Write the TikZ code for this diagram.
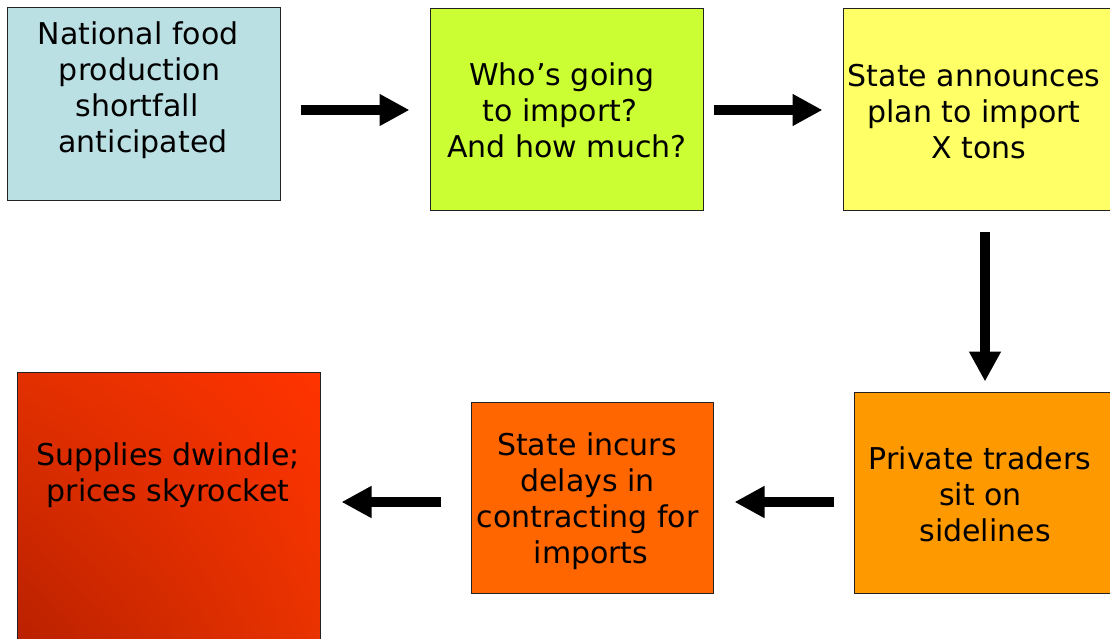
\documentclass[tikz,border=0pt]{standalone}
\usepackage{fontspec}
\setmainfont{DejaVu Sans}
\usetikzlibrary{arrows.meta,shadings}
\definecolor{cblue}{HTML}{BBE0E3}
\definecolor{cgreen}{HTML}{CCFF33}
\definecolor{cyellow}{HTML}{FFFF66}
\definecolor{corange}{HTML}{FF9900}
\definecolor{cred}{HTML}{FF6600}
\definecolor{edge}{HTML}{222222}
\definecolor{rUL}{HTML}{E23000}
\definecolor{rUR}{HTML}{FF3300}
\definecolor{rLL}{HTML}{B82000}
\definecolor{rLR}{HTML}{E83300}
\newcommand\lnshift[2]{\hspace*{#1pt}#2\hspace*{-#1pt}}
\tikzset{
  box/.style={draw=edge, line width=1pt, rectangle, inner sep=0pt},
  txt/.style={anchor=north, inner sep=0pt, align=center, font=\fontsize{30}{36}\selectfont},
  flow/.style={line width=10pt, -{Triangle[length=30pt,width=30pt]}}
}
\begin{document}
\begin{tikzpicture}[x=1pt,y=-1pt]
\useasboundingbox (0,0) rectangle (1110,639);
% boxes
\node[box, fill=cblue, minimum width=273pt, minimum height=192pt] (b1) at (143.5,104) {};
\node[box, fill=cgreen, minimum width=273pt, minimum height=201pt] (b2) at (566.5,109.5) {};
\node[box, fill=cyellow, minimum width=272pt, minimum height=201pt] (b3) at (979,109.5) {};
\node[box, fill=corange, minimum width=262pt, minimum height=201pt] (b4) at (985,492.5) {};
\node[box, fill=cred, minimum width=242pt, minimum height=191pt] (b5) at (592,497.5) {};
\node[box, upper left=rUL, upper right=rUR, lower left=rLL, lower right=rLR,
      minimum width=303pt, minimum height=280pt] (b6) at (168.5,512) {};
% texts
\node[txt] (t1) at (140,21.5) {\lnshift{-2}{National food}\\\lnshift{-1}{production}\\\lnshift{-6}{shortfall}\\\lnshift{3}{anticipated}};
\node[txt] (t2) at (565,62.5) {\lnshift{-3}{Who’s going}\\\lnshift{-10}{to import?}\\\lnshift{2}{And how much?}};
\node[txt] (t3) at (974,64.5) {State announces\\plan to import\\\lnshift{5}{X tons}};
\node[txt] (t4) at (981,446.5) {\lnshift{-1}{Private traders}\\\lnshift{-1}{sit on}\\\lnshift{4}{sidelines}};
\node[txt] (t5) at (588,432.5) {\lnshift{-1}{State incurs}\\\lnshift{-1}{delays in}\\\lnshift{-1}{contracting for}\\\lnshift{3}{imports}};
\node[txt] (t6) at (168,442.5) {Supplies dwindle;\\prices skyrocket};
% connectors
\coordinate (vx) at (985,0);
\coordinate (ly) at (0,502);
\coordinate (ty) at (0,110);
\draw[flow, shorten <=20pt, shorten >=20pt] (b1.east |- ty) -- (b2.west |- ty);
\draw[flow, shorten <=10pt, shorten >=20pt] (b2.east |- ty) -- (b3.west |- ty);
\draw[flow, shorten <=21pt, shorten >=10pt] (b3.south -| vx) -- (b4.north -| vx);
\draw[flow, shorten <=20pt, shorten >=21pt] (b4.west |- ly) -- (b5.east |- ly);
\draw[flow, shorten <=30pt, shorten >=21pt] (b5.west |- ly) -- (b6.east |- ly);
\end{tikzpicture}
\end{document}
